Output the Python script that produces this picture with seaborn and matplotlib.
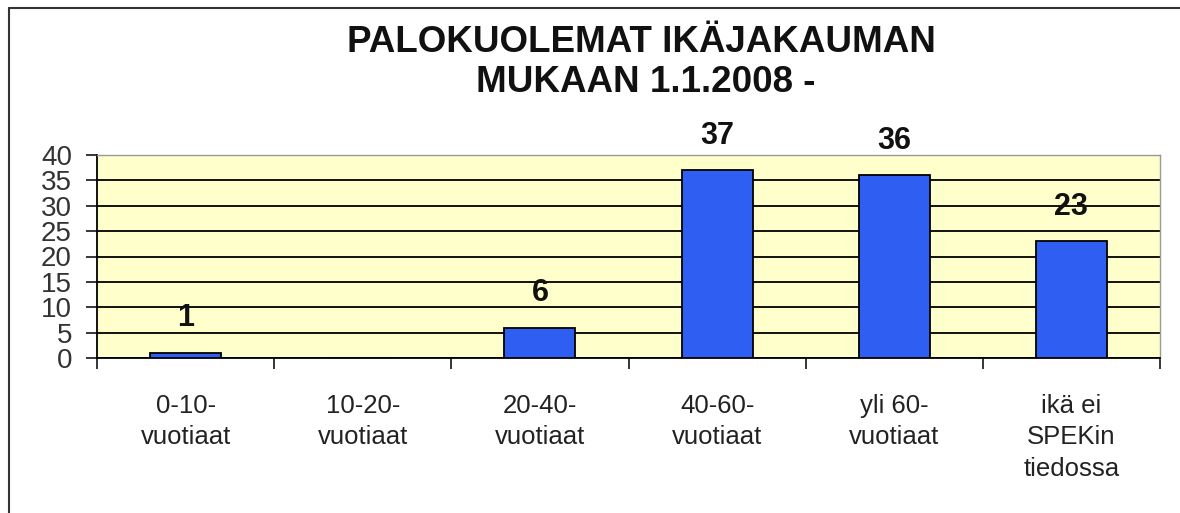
import pandas as pd
import seaborn as sns
from matplotlib import pyplot as plt
from matplotlib.lines import Line2D

categories = ["0-10-\nvuotiaat", "10-20-\nvuotiaat", "20-40-\nvuotiaat",
              "40-60-\nvuotiaat", "yli 60-\nvuotiaat", "ikä ei\nSPEKin\ntiedossa"]
deaths = [1, 0, 6, 37, 36, 23]
bar_labels = ["1", "", "6", "37", "36", "23"]

df = pd.DataFrame({"ika": categories, "kuolemat": deaths})

sns.set_style("white")
plt.rcParams['font.family'] = ['Liberation Sans', 'DejaVu Sans']

fig = plt.figure(figsize=(11.8, 5.13), dpi=100)
ax = fig.add_axes([97 / 1180, 1 - 358 / 513, (1160 - 97) / 1180, (358 - 155) / 513])

sns.barplot(x="ika", y="kuolemat", data=df, color="#2F5FF2", width=0.4,
            edgecolor="black", linewidth=1.3, saturation=1, ax=ax, zorder=3)

ax.set_facecolor("#FFFFCC")
ax.set_ylim(0, 40)
ax.set_xlim(-0.5, 5.5)
ax.set_yticks(range(0, 41, 5))
ax.yaxis.grid(True, color="black", linewidth=1.3, zorder=0)
ax.set_axisbelow(True)

for side in ["top", "right"]:
    ax.spines[side].set_color("#999999")
    ax.spines[side].set_linewidth(1)
for side in ["left", "bottom"]:
    ax.spines[side].set_color("black")
    ax.spines[side].set_linewidth(1.3)

ax.tick_params(axis="y", direction="out", length=8, width=1.3, labelsize=20,
               pad=10, left=True, labelcolor="#333333")
ax.set_yticklabels([str(v) for v in range(0, 41, 5)])

# x ticks sit between the categories
ax.set_xticks([i - 0.5 for i in range(7)], minor=False)
ax.set_xticklabels([""] * 7)
ax.tick_params(axis="x", direction="out", length=8, width=1.3, bottom=True)
ax.set_xticks(range(6), minor=True)
ax.set_xticklabels(categories, minor=True)
ax.tick_params(axis="x", which="minor", length=0, labelsize=18.5, pad=26,
               labelcolor="#222222")
for t in ax.get_xticklabels(minor=True):
    t.set_linespacing(1.38)
    t.set_verticalalignment("top")

for i, (v, lab) in enumerate(zip(deaths, bar_labels)):
    if lab:
        ax.annotate(lab, (i, v), xytext=(0, 25), textcoords="offset points",
                    ha="center", va="center", fontsize=22, fontweight="bold",
                    color="#111111", annotation_clip=False)

ax.set_xlabel("")
ax.set_ylabel("")

fig.text(641 / 1180, 1 - 42 / 513, "PALOKUOLEMAT IKÄJAKAUMAN", ha="center", va="center",
         fontsize=26.5, fontweight="bold", color="#111111")
fig.text(646 / 1180, 1 - 82 / 513, "MUKAAN 1.1.2008 -", ha="center", va="center",
         fontsize=26.5, fontweight="bold", color="#111111")

# outer frame lines (left and top)
fig.add_artist(Line2D([9 / 1180, 9 / 1180], [0, 1 - 8 / 513], color="#333333", linewidth=1.5,
                      transform=fig.transFigure))
fig.add_artist(Line2D([9 / 1180, 1], [1 - 8 / 513, 1 - 8 / 513], color="#333333", linewidth=1.5,
                      transform=fig.transFigure))

fig.savefig("out.png", dpi=100)
